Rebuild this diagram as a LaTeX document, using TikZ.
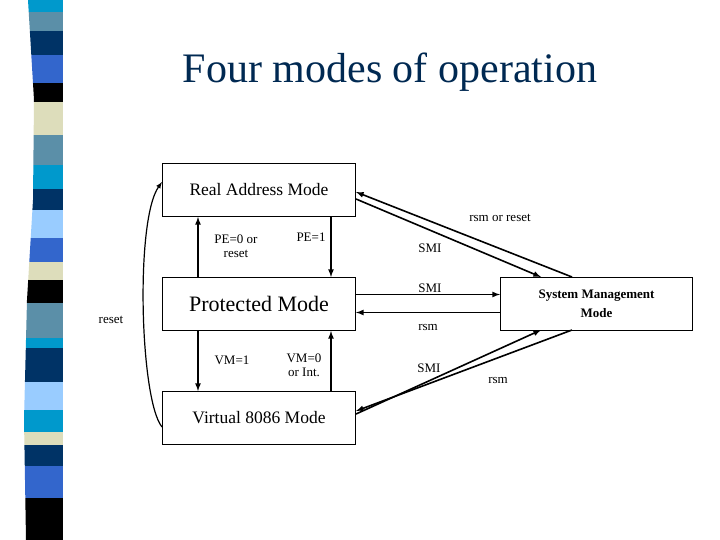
\documentclass[tikz,border=0pt]{standalone}
\usepackage{fontspec}
\setmainfont{Liberation Serif}
\begin{document}
\begin{tikzpicture}[x=1pt,y=-1pt,
 box/.style={draw,line width=1pt,fill=white,minimum width=193pt,minimum height=53pt,anchor=north west,inner sep=0},
 arr/.style={line width=1.6pt,-latex},
 lbl/.style={font=\fontsize{13}{14}\selectfont,align=center,inner sep=0}]
\useasboundingbox (0,0) rectangle (720,540);
\fill[white] (0,0) rectangle (720,540);
\definecolor{cA}{HTML}{0099CC}\definecolor{cB}{HTML}{5B8FA8}\definecolor{cC}{HTML}{003366}
\definecolor{cD}{HTML}{3366CC}\definecolor{cE}{HTML}{000000}\definecolor{cF}{HTML}{DDDDBB}
\definecolor{cG}{HTML}{99CCFF}
\begin{scope}
\clip (28,0) -- (34,100) -- (33,200) -- (27,300) -- (24,420) -- (26,540) -- (63,540) -- (63,0) -- cycle;
\foreach \a/\b/\c in {0/12/cA,12/31/cB,31/55/cC,55/83/cD,83/102/cE,102/135/cF,135/165/cB,165/189/cA,189/210/cC,210/238/cG,238/262/cD,262/280/cF,280/303/cE,303/338/cB,338/348/cA,348/382/cC,382/410/cG,410/432/cA,432/445/cF,445/466/cC,466/498/cD,498/540/cE}
  \fill[\c] (0,\a) rectangle (63,\b);
\end{scope}
\node[font=\fontsize{42}{44}\selectfont,text=cC!80!black] (title) at (390,72) {Four modes of operation};
\node[box,font=\fontsize{17.5}{18}\selectfont] (ram) at (162,163) {Real Address Mode};
\node[box,font=\fontsize{22}{24}\selectfont] (pm) at (162,277) {Protected Mode};
\node[box,font=\fontsize{17.5}{18}\selectfont] (vm) at (162,391) {Virtual 8086 Mode};
\node[box,minimum width=192pt,font=\bfseries\fontsize{13}{19}\selectfont,align=center] (smm) at (500,277) {System Management\\Mode};
% vertical
\draw[arr] (pm.north west)++(36,0) coordinate (p1) -- (p1 |- ram.south);
\draw[arr] (ram.south west)++(169,0) coordinate (p2) -- (p2 |- pm.north);
\draw[arr] (pm.south west)++(36,0) coordinate (p3) -- (p3 |- vm.north);
\draw[arr] (vm.north west)++(169,0) coordinate (p4) -- (p4 |- pm.south);
% diagonal
\coordinate (s1) at (541,277); \coordinate (s2) at (572,277);
\coordinate (s3) at (541,330); \coordinate (s4) at (572,330);
\draw[arr] (ram.east)++(0,9) -- (s1);
\draw[arr] (s2) -- ([yshift=-2pt]ram.east);
\draw[arr] (pm.east)++(0,-9.5) coordinate (q1) -- (q1 -| smm.west);
\draw[arr] (smm.west)++(0,8.5) coordinate (q2) -- (q2 -| pm.east);
\draw[arr] (vm.east)++(0,-4) -- (s3);
\draw[arr] (s4) -- ([yshift=7pt]vm.east);
\draw[line width=1.2pt,-latex] (vm.west)++(0,9) .. controls (140,400) and (135,220) .. ([yshift=8pt]ram.west);
% labels
\node[lbl] (l1) at (500,218) {rsm or reset};
\node[lbl] (l2) at (430,248) {SMI};
\node[lbl] (l3) at (430,288) {SMI};
\node[lbl] (l4) at (428,327) {rsm};
\node[lbl] (l5) at (429,368) {SMI};
\node[lbl] (l6) at (498,380) {rsm};
\node[lbl] (l7) at (111,320) {reset};
\node[lbl] (l8) at (236,246) {PE=0 or\\reset};
\node[lbl] (l9) at (311,237) {PE=1};
\node[lbl] (l10) at (232,360) {VM=1};
\node[lbl] (l11) at (304,365) {VM=0\\or Int.};
\end{tikzpicture}
\end{document}
